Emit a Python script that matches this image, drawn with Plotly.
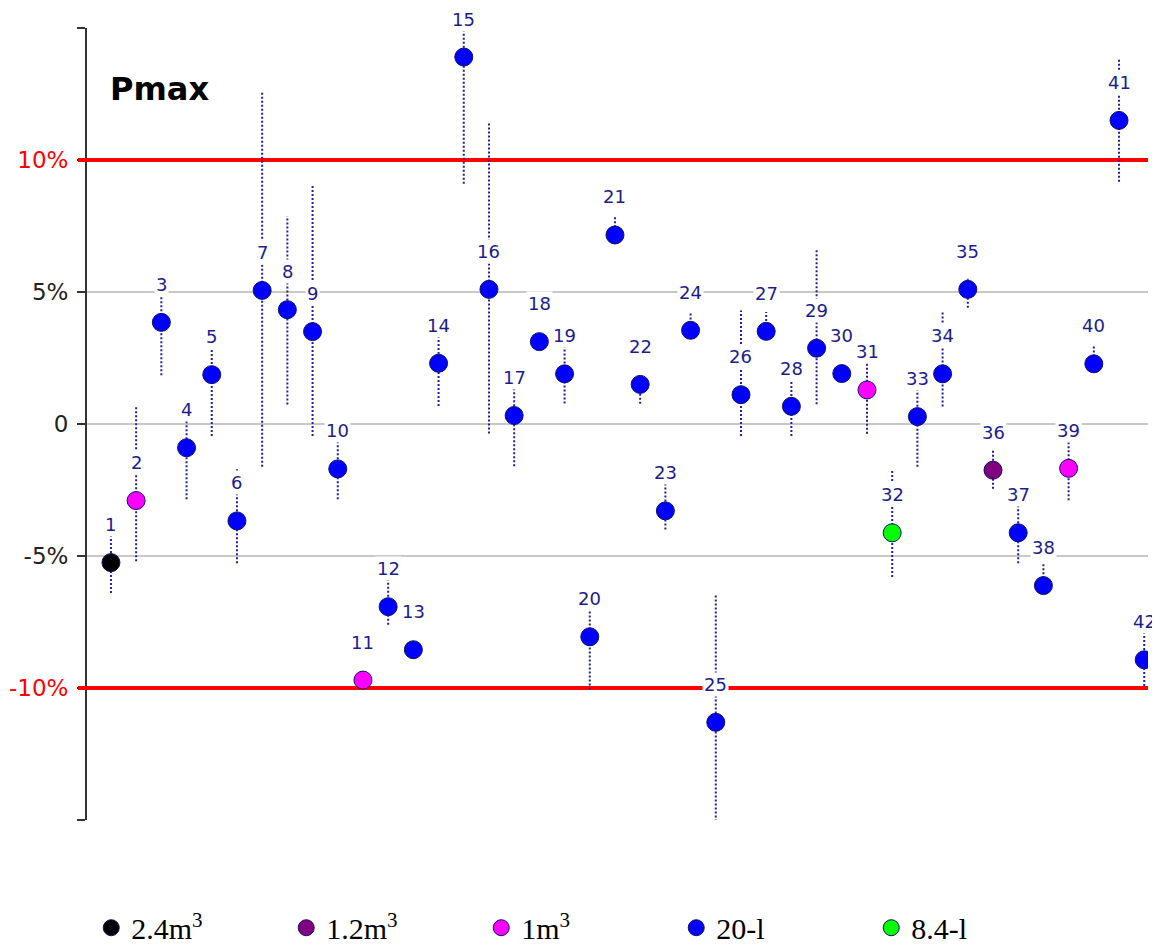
import plotly.graph_objects as go

# ---------------- data ----------------
lab_ids = list(range(1, 43))
pmax_dev = [-5.25, -2.9, 3.85, -0.9, 1.87, -3.67, 5.06, 4.33, 3.5, -1.7,
            -9.7, -6.92, -8.55, 2.3, 13.9, 5.1, 0.32, 3.12, 1.9, -8.06,
            7.16, 1.5, -3.29, 3.55, -11.3, 1.11, 3.51, 0.67, 2.87, 1.91,
            1.29, -4.12, 0.28, 1.9, 5.1, -1.75, -4.12, -6.12, -1.68, 2.28,
            11.5, -8.93]
err_top = [-4.2, 0.7, 5.3, 0.6, 3.3, -1.7, 12.6, 7.87, 9.05, -0.3,
           -9.5, -5.5, -8.35, 3.7, 14.9, 11.4, 1.7, 3.35, 3.3, -6.6,
           7.83, 1.75, -1.9, 4.24, -6.49, 4.3, 4.24, 2.0, 6.59, 2.1,
           2.43, -1.78, 1.6, 4.23, 5.5, -0.99, -2.7, -5.27, -0.53, 3.0,
           13.84, -7.6]
err_bottom = [-6.4, -5.2, 1.85, -2.85, -0.45, -5.27, -1.62, 0.74, -0.45, -2.85,
              -9.9, -7.6, -8.75, 0.68, 9.1, -0.36, -1.6, 2.9, 0.78, -10.06,
              7.0, 0.77, -4.0, 3.35, -15.36, -0.45, 3.3, -0.45, 0.75, 1.7,
              -0.37, -5.8, -1.62, 0.66, 4.4, -2.45, -5.27, -6.3, -2.89, 2.1,
              9.18, -9.92]
vessel = ["2.4m3", "1m3", "20-l", "20-l", "20-l", "20-l", "20-l", "20-l", "20-l", "20-l",
          "1m3", "20-l", "20-l", "20-l", "20-l", "20-l", "20-l", "20-l", "20-l", "20-l",
          "20-l", "20-l", "20-l", "20-l", "20-l", "20-l", "20-l", "20-l", "20-l", "20-l",
          "1m3", "8.4-l", "20-l", "20-l", "20-l", "1.2m3", "20-l", "20-l", "1m3", "20-l",
          "20-l", "20-l"]
groups = ["2.4m3", "1.2m3", "1m3", "20-l", "8.4-l"]
group_names = ["2.4m<sup>3</sup>", "1.2m<sup>3</sup>", "1m<sup>3</sup>", "20-l", "8.4-l"]
group_colors = ["#000000", "#800080", "#ff00ff", "#0000ff", "#00ff00"]

x_range = [0.05, 42.15]
y_range = [-15, 15]
y_tick_vals = [-15, -10, -5, 0, 5, 10, 15]
y_tick_text = [" ", '<span style="color:#ff0000">-10%</span>', "-5%", "0", "5%",
               '<span style="color:#ff0000">10%</span>', " "]
limit_lines = [10, -10]

NAVY = "#1c1c8c"

fig = go.Figure()

# limit lines (+/-10 %), drawn above the grid but below the points
for yv in limit_lines:
    fig.add_trace(go.Scatter(x=x_range, y=[yv, yv], mode="lines", showlegend=False,
                             hoverinfo="skip", line=dict(color="#ff0000", width=4)))
    fig.add_shape(type="line", xref="paper", yref="y", x0=-0.0085, x1=0.0,
                  y0=yv, y1=yv, line=dict(color="#ff0000", width=4), layer="above")

# error bars (dotted vertical lines)
ex, ey = [], []
for i, lo, hi in zip(lab_ids, err_bottom, err_top):
    ex += [i, i, None]
    ey += [lo, hi, None]
fig.add_trace(go.Scatter(x=ex, y=ey, mode="lines", showlegend=False, hoverinfo="skip",
                         line=dict(color="#2020a0", width=2, dash="2px,2px")))

# markers per group
for g, name, col in zip(groups, group_names, group_colors):
    xs = [i for i, v in zip(lab_ids, vessel) if v == g]
    ys = [p for p, v in zip(pmax_dev, vessel) if v == g]
    fig.add_trace(go.Scatter(x=xs, y=ys, mode="markers", name=name,
                             marker=dict(color=col, size=18, symbol="circle",
                                         line=dict(color="#10106a", width=1))))

# point labels
for i, p in zip(lab_ids, pmax_dev):
    fig.add_annotation(x=i, y=p, text=str(i), showarrow=False, yshift=38,
                       bgcolor="white", borderpad=1,
                       font=dict(family="DejaVu Sans", size=18, color=NAVY))

fig.add_annotation(xref="paper", yref="paper", x=0.02, y=0.923, text="<b>Pmax</b>",
                   showarrow=False, xanchor="left", yanchor="middle",
                   font=dict(family="DejaVu Sans", size=32, color="black"))

fig.update_xaxes(range=x_range, visible=False, showgrid=False, zeroline=False)
fig.update_yaxes(range=y_range, tickvals=y_tick_vals, ticktext=y_tick_text,
                 showline=True, linecolor="#333333", linewidth=2,
                 ticks="outside", ticklen=8, tickwidth=2, tickcolor="#333333",
                 showgrid=True, gridcolor="#c8c8c8", gridwidth=2, zeroline=False,
                 tickfont=dict(family="DejaVu Sans", size=23, color="#222222"),
                 ticklabelstandoff=4, automargin=False)

# the page body adds an 8 px offset, so the figure is 8 px smaller
fig.update_layout(
    width=1152, height=938,
    margin=dict(l=79, r=12, t=20, b=126, autoexpand=False),
    plot_bgcolor="white", paper_bgcolor="white",
    showlegend=True,
    legend=dict(orientation="h", x=0.004, xanchor="left", y=-0.136, yanchor="middle",
                font=dict(family="Liberation Serif", size=30, color="black"),
                entrywidth=150, entrywidthmode="pixels", itemwidth=30,
                bgcolor="rgba(0,0,0,0)"),
)

fig.write_html("out.html")
